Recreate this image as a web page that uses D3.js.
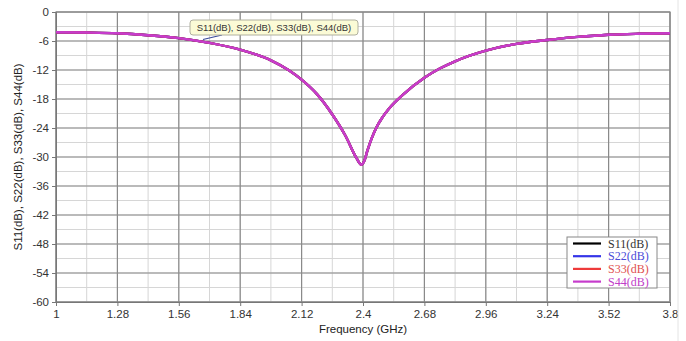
<!DOCTYPE html>
<html>
<head>
<meta charset="utf-8">
<script src="https://cdn.jsdelivr.net/npm/d3@7"></script>
<style>
  html, body { margin: 0; padding: 0; background: #fff; }
  svg { display: block; }
  .tick text { font-family: "Liberation Sans", Arial, sans-serif; }
</style>
</head>
<body>
<svg id="chart" width="686" height="341"></svg>
<script>
// Frequency sweep (GHz) and return loss (dB) of the four ports
const freq = [1.00, 1.14, 1.28, 1.42, 1.56, 1.70, 1.84, 1.98, 2.06, 2.12, 2.19, 2.26, 2.32, 2.37, 2.393,
              2.405, 2.42, 2.44, 2.46, 2.49, 2.52, 2.58, 2.68, 2.75, 2.82, 2.96, 3.10, 3.24, 3.38, 3.52, 3.66, 3.80];
const s11 = [-4.2, -4.25, -4.4, -4.8, -5.4, -6.4, -7.8, -10.0, -12.0, -14.0, -17.0, -21.2, -25.6, -30.2, -31.6,
             -30.9, -28.7, -26.1, -24.0, -21.7, -19.9, -17.2, -13.6, -11.7, -10.2, -8.0, -6.6, -5.8, -5.15, -4.7, -4.5, -4.4];
const s22 = s11.slice();
const s33 = s11.slice();
const s44 = s11.slice();

const seriesNames = ["S11(dB)", "S22(dB)", "S33(dB)", "S44(dB)"];
const seriesValues = [s11, s22, s33, s44];
const seriesColors = ["#000000", "#3535e8", "#ee3a3a", "#c63ccc"];
const labelColors = ["#333333", "#4b4bd8", "#e05050", "#c040c8"];

const xTicks = [1, 1.28, 1.56, 1.84, 2.12, 2.4, 2.68, 2.96, 3.24, 3.52, 3.8];
const yTicks = [0, -6, -12, -18, -24, -30, -36, -42, -48, -54, -60];

const svg = d3.select("#chart");
const plotL = 56, plotR = 670, plotT = 12, plotB = 302;

const x = d3.scaleLinear().domain([1, 3.8]).range([plotL, plotR]);
const y = d3.scaleLinear().domain([0, -60]).range([plotT, plotB]);

// minor grid
const xMinor = d3.range(1, 3.8001, 0.14);
const yMinor = d3.range(0, -60.001, -3);
svg.append("g").selectAll("line").data(xMinor).join("line")
  .attr("x1", d => x(d)).attr("x2", d => x(d)).attr("y1", plotT).attr("y2", plotB)
  .attr("stroke", "#d6d6d6").attr("stroke-width", 1);
svg.append("g").selectAll("line").data(yMinor).join("line")
  .attr("x1", plotL).attr("x2", plotR).attr("y1", d => y(d)).attr("y2", d => y(d))
  .attr("stroke", "#d6d6d6").attr("stroke-width", 1);

// major grid
svg.append("g").selectAll("line").data(xTicks).join("line")
  .attr("x1", d => x(d)).attr("x2", d => x(d)).attr("y1", plotT).attr("y2", plotB)
  .attr("stroke", "#8a8a8a").attr("stroke-width", 1.2);
svg.append("g").selectAll("line").data(yTicks).join("line")
  .attr("x1", plotL).attr("x2", plotR).attr("y1", d => y(d)).attr("y2", d => y(d))
  .attr("stroke", "#8a8a8a").attr("stroke-width", 1.2);

// plot frame
svg.append("rect").attr("x", plotL).attr("y", plotT).attr("width", plotR - plotL).attr("height", plotB - plotT)
  .attr("fill", "none").attr("stroke", "#888").attr("stroke-width", 1.2);

// axes
const xAxis = svg.append("g").attr("transform", `translate(0,${plotB})`)
  .call(d3.axisBottom(x).tickValues(xTicks).tickFormat(d => String(d)).tickSize(4).tickPadding(4));
const yAxis = svg.append("g").attr("transform", `translate(${plotL},0)`)
  .call(d3.axisLeft(y).tickValues(yTicks).tickFormat(d => String(d)).tickSize(4).tickPadding(3));
[xAxis, yAxis].forEach(g => {
  g.select(".domain").attr("stroke", "#777");
  g.selectAll(".tick line").attr("stroke", "#777");
  g.selectAll(".tick text").attr("font-size", 11.5).attr("fill", "#333");
});

// axis titles
svg.append("text").attr("x", (plotL + plotR) / 2).attr("y", 333)
  .attr("text-anchor", "middle").attr("font-family", "Liberation Sans, Arial, sans-serif")
  .attr("font-size", 11.5).attr("fill", "#222").text("Frequency (GHz)");
svg.append("text").attr("transform", `translate(22,${(plotT + plotB) / 2}) rotate(-90)`)
  .attr("text-anchor", "middle").attr("font-family", "Liberation Sans, Arial, sans-serif")
  .attr("font-size", 11.5).attr("fill", "#222").text("S11(dB), S22(dB), S33(dB), S44(dB)");

// curves
const line = d3.line().x((d, i) => x(freq[i])).y(d => y(d)).curve(d3.curveMonotoneX);
seriesValues.forEach((vals, k) => {
  svg.append("path").datum(vals).attr("d", line)
    .attr("fill", "none").attr("stroke", seriesColors[k]).attr("stroke-width", 2.4);
});

// data tip annotation
const tip = svg.append("g");
tip.append("line").attr("x1", 222).attr("y1", 35).attr("x2", 203).attr("y2", 39.5)
  .attr("stroke", "#3a4a9a").attr("stroke-width", 1.2);
tip.append("rect").attr("x", 190).attr("y", 20).attr("width", 168).attr("height", 15).attr("rx", 3)
  .attr("fill", "#fbfbd6").attr("stroke", "#b0b0a0").attr("stroke-width", 1);
tip.append("text").attr("x", 274).attr("y", 31).attr("text-anchor", "middle")
  .attr("font-family", "Liberation Sans, Arial, sans-serif").attr("font-size", 9.5).attr("fill", "#333")
  .text("S11(dB), S22(dB), S33(dB), S44(dB)");

// legend
const lg = svg.append("g");
lg.append("rect").attr("x", 567).attr("y", 237).attr("width", 90).attr("height", 51)
  .attr("fill", "#fff").attr("stroke", "#888").attr("stroke-width", 1);
seriesNames.forEach((name, k) => {
  const yy = 243.5 + k * 12.7;
  lg.append("line").attr("x1", 573).attr("x2", 601).attr("y1", yy).attr("y2", yy)
    .attr("stroke", seriesColors[k]).attr("stroke-width", 2.2);
  lg.append("text").attr("x", 608).attr("y", yy + 4.2)
    .attr("font-family", "Liberation Serif, Times New Roman, serif").attr("font-size", 12)
    .attr("fill", labelColors[k]).text(name);
});

// faint page edge at right
svg.append("line").attr("x1", 678).attr("x2", 678).attr("y1", 0).attr("y2", 341)
  .attr("stroke", "#e4e4e4").attr("stroke-width", 1);
</script>
</body>
</html>
